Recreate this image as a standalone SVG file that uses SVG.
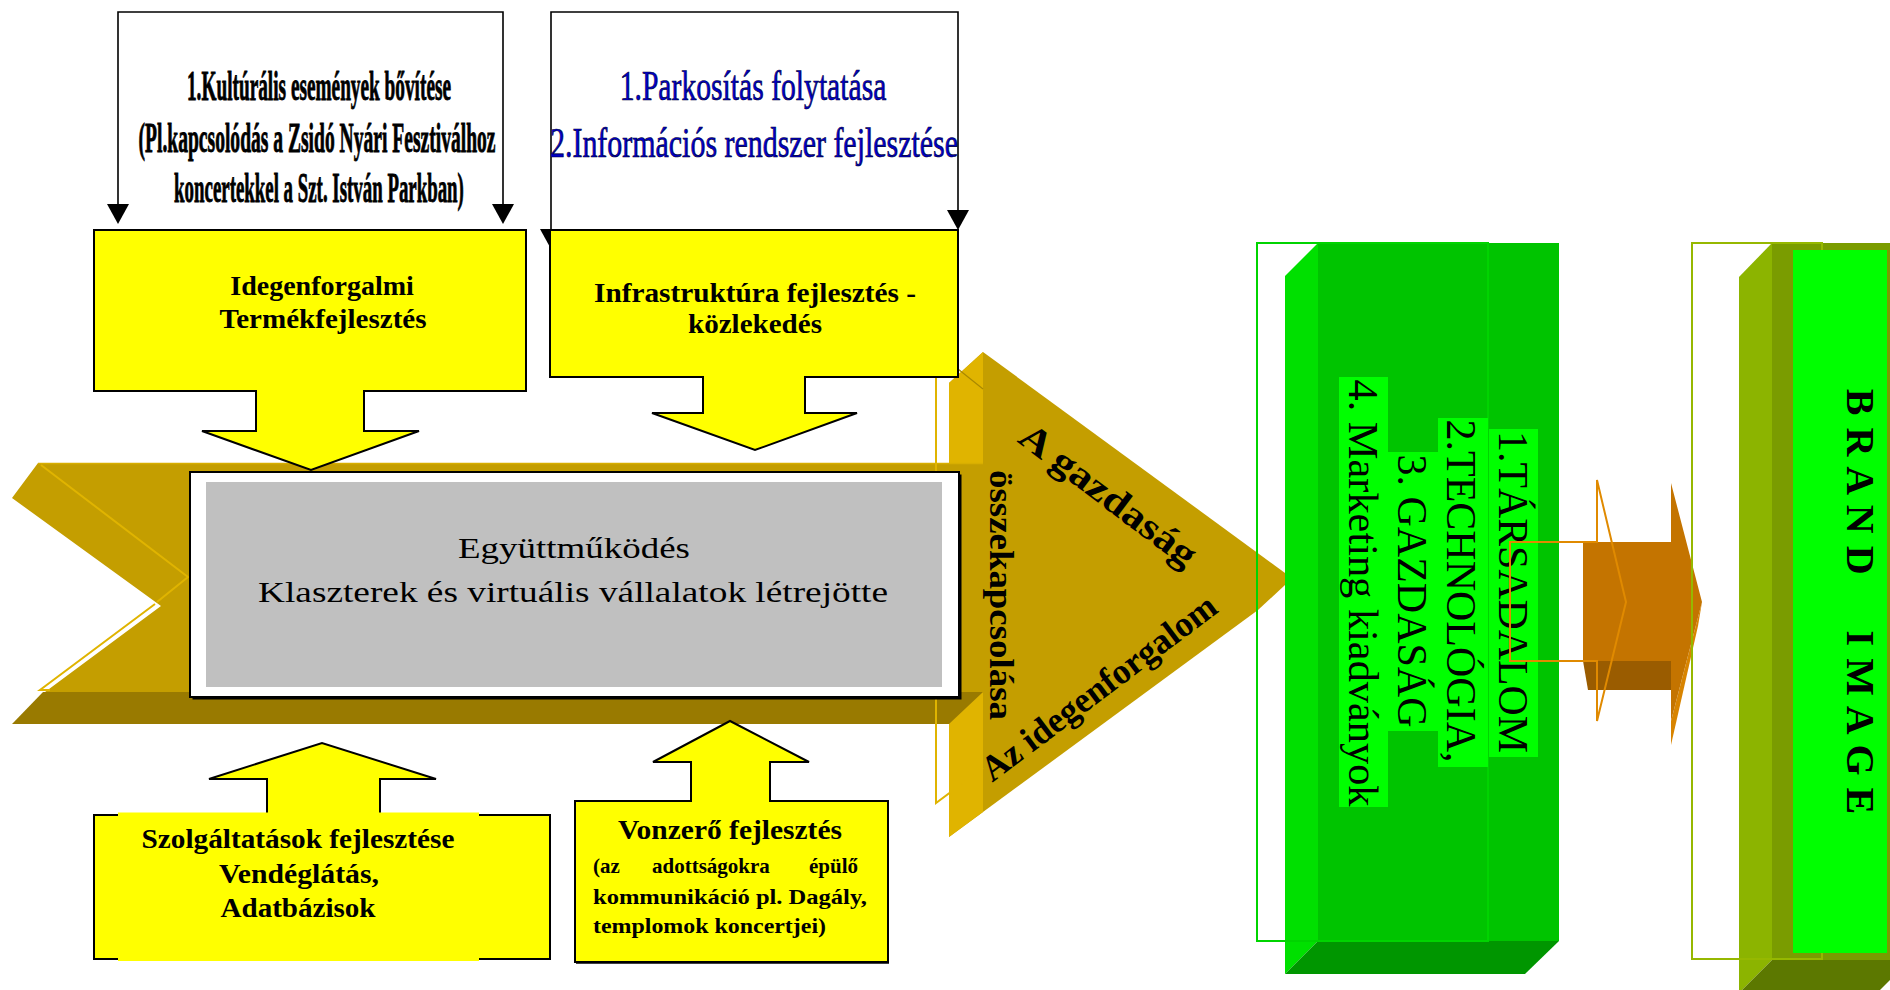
<svg xmlns="http://www.w3.org/2000/svg" width="1890" height="990" viewBox="0 0 1890 990">
<defs>
<style>
text{font-family:"Liberation Serif","Times New Roman",serif;fill:#000}
.b{font-weight:bold}
.ybox{fill:#FFFF00;stroke:#000;stroke-width:2}
.conn{fill:none;stroke:#000;stroke-width:1.6}
.gold{fill:#C49E00}
.lgold{fill:#E0B400}
.dgold{fill:#997A00}
.wire{fill:none;stroke:#E0B400;stroke-width:2}
.gbg{fill:#00FF00}
.gt{font-size:42px}
.heavy{stroke:#000;stroke-width:0.9}
.blue{fill:#0000C8;stroke:#000030;stroke-width:0.7}
</style>
<marker id="ah" markerUnits="userSpaceOnUse" viewBox="0 0 20 22" refX="1" refY="11" markerWidth="20" markerHeight="22" orient="auto-start-reverse">
<path d="M0,0 L20,11 L0,22 Z" fill="#000"/>
</marker>
</defs>
<rect width="1890" height="990" fill="#fff"/>

<g id="triangle">
<polygon class="gold" points="983,352 1285,573 1285,585 1258,610 949,837 949,383"/>
<polygon class="lgold" points="949,383 983,352 983,812 949,837"/>
<line x1="958" y1="369" x2="983" y2="389" stroke="#A88800" stroke-width="1.2"/>
</g>

<g id="chevron">
<polygon class="gold" points="38,463 983,463 983,692 45,692 161,606 12,498"/>
<polygon class="dgold" points="43,692 983,692 949,724 12,724"/>
<polyline class="wire" points="41,465 188,577 157,602"/>
<polyline class="wire" points="155,604 40,690 50,690"/>
<line x1="38" y1="463.5" x2="983" y2="463.5" stroke="#D8AE00" stroke-width="1.5"/>
<path class="wire" d="M936,377 V803 L983,768"/>
</g>

<g id="cooperation">
<rect x="192.5" y="474.5" width="769" height="225" fill="#000"/>
<rect x="190" y="472" width="769" height="225" fill="#fff" stroke="#000" stroke-width="2"/>
<rect x="206" y="482" width="736" height="205" fill="#C0C0C0"/>
<text x="574" y="558" font-size="30" text-anchor="middle" textLength="232" lengthAdjust="spacingAndGlyphs">Együttműködés</text>
<text x="573" y="602" font-size="30" text-anchor="middle" textLength="630" lengthAdjust="spacingAndGlyphs">Klaszterek és virtuális vállalatok létrejötte</text>
</g>

<g id="triangle-text">
<text class="b" font-size="38" text-anchor="middle" textLength="212" lengthAdjust="spacingAndGlyphs" transform="translate(1101,505) rotate(37)">A gazdaság</text>
<text class="b" font-size="34" textLength="250" lengthAdjust="spacingAndGlyphs" transform="translate(990,470) rotate(90)">összekapcsolása</text>
<text class="b" font-size="36" text-anchor="middle" textLength="285" lengthAdjust="spacingAndGlyphs" transform="translate(1106,697) rotate(-37)">Az idegenforgalom</text>
</g>

<g id="connectors">
<path class="conn" d="M118,205 V12 H503 V205" marker-start="url(#ah)" marker-end="url(#ah)"/>
<path class="conn" d="M551,230 V12 H958 V18 V211" marker-start="url(#ah)" marker-end="url(#ah)"/>
</g>

<g id="note-culture">
<text class="b heavy" font-size="42" text-anchor="middle" textLength="574" lengthAdjust="spacingAndGlyphs" transform="translate(319,100) scale(0.46,1)">1.Kultúrális események bővítése</text>
<text class="b heavy" font-size="42" text-anchor="middle" textLength="776" lengthAdjust="spacingAndGlyphs" transform="translate(317,152) scale(0.46,1)">(Pl.kapcsolódás a Zsidó Nyári Fesztiválhoz</text>
<text class="b heavy" font-size="42" text-anchor="middle" textLength="630" lengthAdjust="spacingAndGlyphs" transform="translate(319,202) scale(0.46,1)">koncertekkel a Szt. István Parkban)</text>
</g>

<g id="note-infra">
<text class="blue" font-size="42" text-anchor="middle" textLength="381" lengthAdjust="spacingAndGlyphs" transform="translate(753,100) scale(0.7,1)">1.Parkosítás folytatása</text>
<text class="blue" font-size="42" text-anchor="middle" textLength="583" lengthAdjust="spacingAndGlyphs" transform="translate(754,157) scale(0.7,1)">2.Információs rendszer fejlesztése</text>
</g>

<g id="box-product">
<polygon class="ybox" points="94,230 526,230 526,391 364,391 364,431 419,431 311,470 202,431 256,431 256,391 94,391"/>
<text class="b" x="322" y="295" font-size="28" text-anchor="middle">Idegenforgalmi</text>
<text class="b" x="323" y="328" font-size="28" text-anchor="middle" textLength="207" lengthAdjust="spacingAndGlyphs">Termékfejlesztés</text>
</g>

<g id="box-infra">
<polygon class="ybox" points="550,230 958,230 958,377 805,377 805,413 857,413 755,450 652,413 703,413 703,377 550,377"/>
<text class="b" x="755" y="302" font-size="28" text-anchor="middle" textLength="322" lengthAdjust="spacingAndGlyphs">Infrastruktúra fejlesztés -</text>
<text class="b" x="755" y="333" font-size="28" text-anchor="middle" textLength="134" lengthAdjust="spacingAndGlyphs">közlekedés</text>
</g>

<g id="box-services">
<polygon class="ybox" points="94,815 267,815 267,779 209,779 322,743 436,779 380,779 380,815 550,815 550,959 94,959"/>
<rect x="118" y="812.5" width="361" height="4.5" fill="#FFFF00"/>
<rect x="118" y="957" width="361" height="4" fill="#FFFF00"/>
<text class="b" x="298" y="848" font-size="27" text-anchor="middle" textLength="313" lengthAdjust="spacingAndGlyphs">Szolgáltatások fejlesztése</text>
<text class="b" x="299" y="883" font-size="27" text-anchor="middle" textLength="160" lengthAdjust="spacingAndGlyphs">Vendéglátás,</text>
<text class="b" x="298" y="917" font-size="27" text-anchor="middle" textLength="155" lengthAdjust="spacingAndGlyphs">Adatbázisok</text>
</g>

<g id="box-attraction">
<polygon class="ybox" points="575,801 691,801 691,762 653,762 730,721 809,762 770,762 770,801 888,801 888,962 575,962"/>
<line x1="576" y1="963" x2="889" y2="963" stroke="#000" stroke-width="1.5"/>
<text class="b" x="730" y="839" font-size="27" text-anchor="middle" textLength="224" lengthAdjust="spacingAndGlyphs">Vonzerő fejlesztés</text>
<text class="b" y="873" font-size="21"><tspan x="593">(az</tspan> <tspan x="652">adottságokra</tspan> <tspan x="809">épülő</tspan></text>
<text class="b" x="593" y="904" font-size="21" textLength="274" lengthAdjust="spacingAndGlyphs">kommunikáció pl. Dagály,</text>
<text class="b" x="593" y="933" font-size="21" textLength="233" lengthAdjust="spacingAndGlyphs">templomok koncertjei)</text>
</g>

<g id="green-box">
<polygon fill="#00E000" points="1285,276 1318,243 1318,941 1285,974"/>
<rect x="1318" y="243" width="241" height="698" fill="#00C400"/>
<polygon fill="#009600" points="1318,941 1559,941 1525,974 1285,974"/>
<rect x="1257" y="243" width="231" height="698" fill="none" stroke="#00D400" stroke-width="2"/>
<rect class="gbg" x="1489" y="429" width="49" height="328"/>
<rect class="gbg" x="1438" y="418" width="50" height="349"/>
<rect class="gbg" x="1388" y="452" width="50" height="279"/>
<rect class="gbg" x="1339" y="377" width="49" height="430"/>
<text class="gt" text-anchor="middle" textLength="322" lengthAdjust="spacingAndGlyphs" transform="translate(1499,592) rotate(90)">1.TÁRSADALOM</text>
<text class="gt" text-anchor="middle" textLength="343" lengthAdjust="spacingAndGlyphs" transform="translate(1447,591) rotate(90)">2.TECHNOLÓGIA,</text>
<text class="gt" text-anchor="middle" textLength="273" lengthAdjust="spacingAndGlyphs" transform="translate(1398,591) rotate(90)">3. GAZDASÁG</text>
<text class="gt" text-anchor="middle" textLength="427" lengthAdjust="spacingAndGlyphs" transform="translate(1349,593) rotate(90)">4. Marketing kiadványok</text>
</g>

<g id="orange-arrow">
<polygon fill="#9A5C00" points="1583,661 1671,661 1671,690 1588,690"/>
<polygon fill="#D88400" points="1671,721 1702,602 1698,626 1671,745"/>
<polygon fill="#C47400" points="1583,542 1671,542 1671,483 1702,602 1671,721 1671,661 1583,661"/>
<polygon fill="none" stroke="#E08A00" stroke-width="2" points="1510,542 1597,542 1597,480 1626,602 1597,721 1597,661 1510,661"/>
</g>

<g id="brand-box">
<polygon fill="#8CB400" points="1739,277 1772,243 1772,960 1739,993"/>
<rect x="1772" y="243" width="118" height="717" fill="#7A9C00"/>
<polygon fill="#5C7800" points="1772,960 1910,960 1877,993 1739,993"/>
<rect x="1692" y="243" width="130" height="716" fill="none" stroke="#96B800" stroke-width="2"/>
<rect x="1793" y="250" width="94" height="703" fill="#00FF00"/>
<text class="b" font-size="40" text-anchor="middle" letter-spacing="1" style="white-space:pre" transform="translate(1847,602) rotate(90)">B R A N D     I M A G E</text>
</g>
</svg>
